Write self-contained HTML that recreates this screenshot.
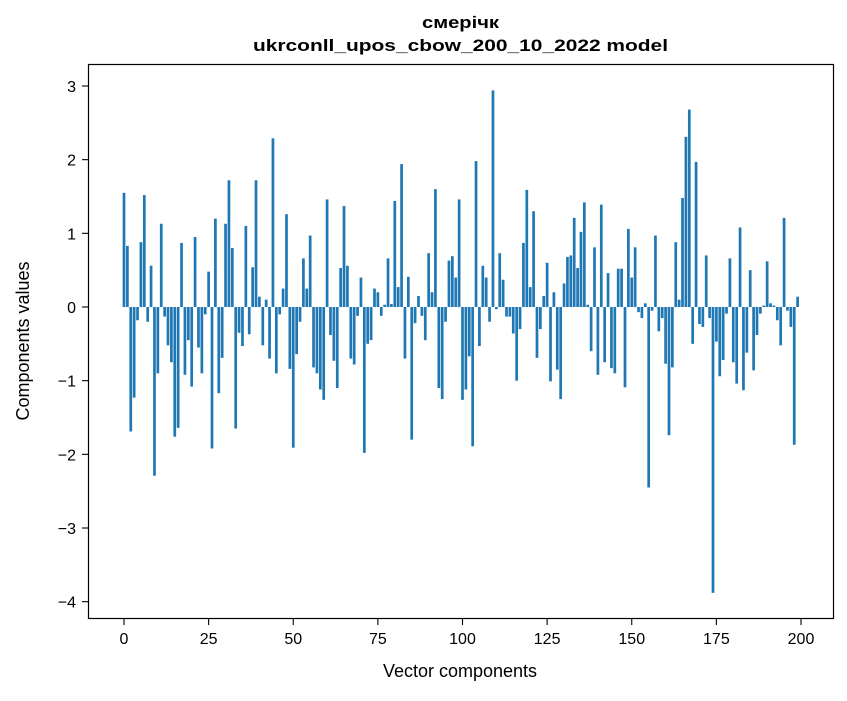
<!DOCTYPE html>
<html><head><meta charset="utf-8"><style>
body{margin:0;background:#fff;}
svg text{font-family:"Liberation Sans","DejaVu Sans",sans-serif;}
</style></head><body>
<svg id="chart" width="847" height="696" xmlns="http://www.w3.org/2000/svg">
<rect width="847" height="696" fill="#fff"/>
<g id="title" font-weight="bold" font-size="17" fill="#000">
<text x="422" y="28" textLength="77" lengthAdjust="spacingAndGlyphs">смерічк</text>
<text x="253" y="51" textLength="415" lengthAdjust="spacingAndGlyphs">ukrconll_upos_cbow_200_10_2022 model</text>
</g>
<g id="bars"></g>
<g id="xticks"></g>
<g id="yticks"></g>
<rect x="88.5" y="64.5" width="745" height="554" fill="none" stroke="#000" stroke-width="1.2"/>
<text x="460" y="677" font-size="18" text-anchor="middle">Vector components</text>
<text x="0" y="0" font-size="18" text-anchor="middle" transform="translate(29,341) rotate(-90)">Components values</text>
</svg>
<script>
const values = [1.55,0.83,-1.69,-1.23,-0.18,0.88,1.52,-0.2,0.56,-2.29,
-0.9,1.13,-0.13,-0.52,-0.75,-1.76,-1.64,0.87,-0.92,-0.45,
-1.08,0.95,-0.55,-0.9,-0.1,0.48,-1.92,1.2,-1.17,-0.69,
1.13,1.72,0.8,-1.65,-0.35,-0.53,1.1,-0.37,0.54,1.72,
0.14,-0.52,0.1,-0.7,2.29,-0.9,-0.1,0.25,1.26,-0.84,
-1.91,-0.64,-0.2,0.66,0.25,0.97,-0.82,-0.9,-1.12,-1.26,
1.46,-0.38,-0.73,-1.1,0.53,1.37,0.56,-0.7,-0.78,-0.12,
0.4,-1.98,-0.5,-0.45,0.25,0.2,-0.12,0.03,0.66,0.04,
1.44,0.27,1.94,-0.7,0.41,-1.8,-0.22,0.15,-0.12,-0.45,
0.73,0.2,1.6,-1.1,-1.25,-0.2,0.63,0.69,0.4,1.46,
-1.26,-1.12,-0.67,-1.89,1.98,-0.53,0.56,0.4,-0.2,2.94,
-0.03,0.73,0.37,-0.13,-0.13,-0.36,-1.0,-0.3,0.87,1.59,
0.27,1.3,-0.69,-0.3,0.15,0.6,-1.01,0.2,-0.85,-1.25,
0.32,0.68,0.7,1.21,0.53,1.02,1.42,0.03,-0.6,0.81,
-0.92,1.39,-0.75,0.46,-0.83,-0.9,0.52,0.52,-1.09,1.06,
0.4,0.81,-0.07,-0.15,0.05,-2.45,-0.05,0.97,-0.33,-0.15,
-0.77,-1.74,-0.82,0.88,0.1,1.48,2.31,2.68,-0.5,1.97,
-0.23,-0.27,0.7,-0.15,-3.88,-0.47,-0.94,-0.72,-0.09,0.66,
-0.75,-1.04,1.08,-1.13,-0.62,0.5,-0.86,-0.38,-0.09,0.02,
0.62,0.05,0.02,-0.18,-0.52,1.21,-0.05,-0.27,-1.87,0.14];
const xTickValues = [0,25,50,75,100,125,150,175,200];
const yTickValues = [-4,-3,-2,-1,0,1,2,3];
const yTickLabels = ["\u22124","\u22123","\u22122","\u22121","0","1","2","3"];

const NS="http://www.w3.org/2000/svg";
function xs(v){return 124 + v*3.385;}
function ys(v){return 307 - v*73.67;}
const bars=document.getElementById('bars');
values.forEach((v,i)=>{
  const r=document.createElementNS(NS,'rect');
  
  
  const w=0.8*3.385;
  r.setAttribute('x',xs(i)-w/2);
  r.setAttribute('width',w);
  r.setAttribute('y',Math.min(ys(v),ys(0)));
  r.setAttribute('height',Math.abs(ys(v)-ys(0)));
  r.setAttribute('fill','#1f77b4');
  bars.appendChild(r);
});
const xg=document.getElementById('xticks');
xTickValues.forEach(t=>{
  const l=document.createElementNS(NS,'line');
  
  
  l.setAttribute('x1',xs(t));l.setAttribute('x2',xs(t));
  l.setAttribute('y1',618.5);l.setAttribute('y2',625);
  l.setAttribute('stroke','#000');l.setAttribute('stroke-width','1.1');
  xg.appendChild(l);
  const tx=document.createElementNS(NS,'text');
  
  
  tx.setAttribute('x',xs(t));tx.setAttribute('y',644);
  tx.setAttribute('font-size','16');tx.setAttribute('text-anchor','middle');
  tx.textContent=String(t);
  xg.appendChild(tx);
});
const yg=document.getElementById('yticks');
yTickValues.forEach((t,i)=>{
  const l=document.createElementNS(NS,'line');
  
  
  l.setAttribute('x1',82);l.setAttribute('x2',88.5);
  l.setAttribute('y1',ys(t));l.setAttribute('y2',ys(t));
  l.setAttribute('stroke','#000');l.setAttribute('stroke-width','1.1');
  yg.appendChild(l);
  const tx=document.createElementNS(NS,'text');
  
  
  tx.setAttribute('x',76);tx.setAttribute('y',ys(t)+6);
  tx.setAttribute('font-size','16');tx.setAttribute('text-anchor','end');
  tx.textContent=yTickLabels[i];
  yg.appendChild(tx);
});
</script>
</body></html>
